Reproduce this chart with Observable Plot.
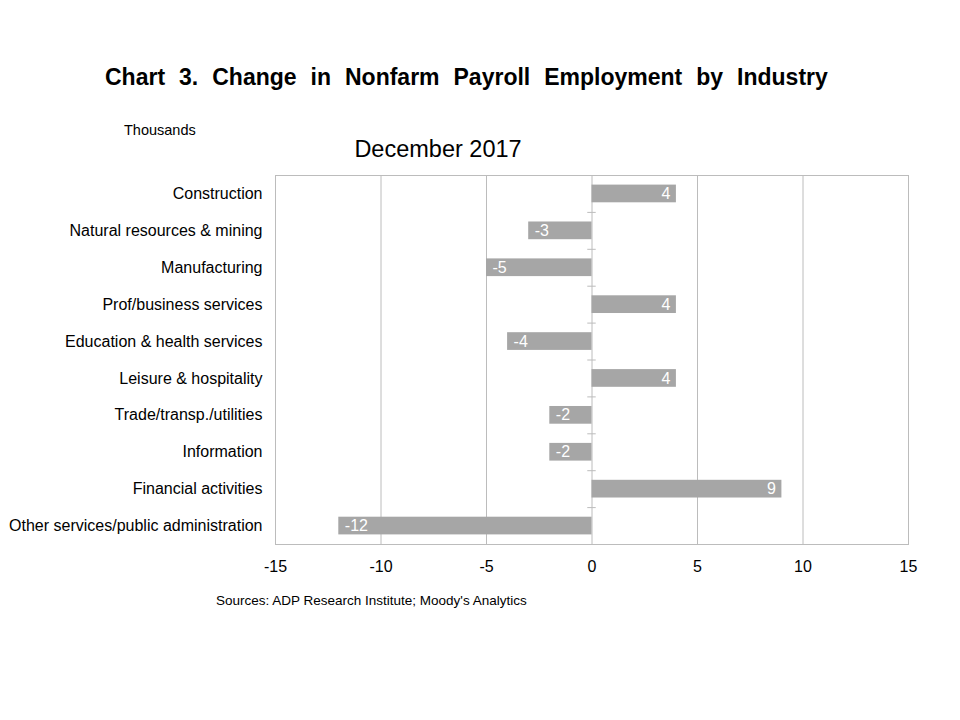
<!DOCTYPE html>
<html>
<head>
<meta charset="utf-8">
<script src="https://cdn.jsdelivr.net/npm/d3@7"></script>
<script src="https://cdn.jsdelivr.net/npm/@observablehq/plot@0.6"></script>
<style>
  html, body { margin: 0; padding: 0; background: #fff; }
  #chart { width: 960px; height: 720px; }
</style>
</head>
<body>
<div id="chart"></div>
<script>
const categories = [
  "Construction",
  "Natural resources & mining",
  "Manufacturing",
  "Prof/business services",
  "Education & health services",
  "Leisure & hospitality",
  "Trade/transp./utilities",
  "Information",
  "Financial activities",
  "Other services/public administration"
];
const values = [4, -3, -5, 4, -4, 4, -2, -2, 9, -12];
const xTicks = [-15, -10, -5, 0, 5, 10, 15];
const gridTicks = [-10, -5, 0, 5, 10];

const title = "Chart 3. Change in Nonfarm Payroll Employment by Industry";
const subtitle = "December 2017";
const unitLabel = "Thousands";
const source = "Sources: ADP Research Institute; Moody's Analytics";

const data = categories.map((c, i) => ({category: c, value: values[i]}));
const font = "'Liberation Sans', Arial, sans-serif";
const barColor = "#a6a6a6";
const gridColor = "#bcbcbc";

const plot = Plot.plot({
  width: 960,
  height: 720,
  marginTop: 175,
  marginBottom: 176,
  marginLeft: 275,
  marginRight: 52,
  style: {fontFamily: font, fontSize: "16px", color: "#000", background: "#fff"},
  x: {domain: [-15, 15], ticks: xTicks, tickSize: 0, tickPadding: 16, label: null, tickFormat: d => String(d)},
  y: {domain: categories, paddingInner: 0.52, paddingOuter: 0.26, round: false, tickSize: 0, tickPadding: 13, label: null},
  marks: [
    Plot.ruleX(gridTicks, {stroke: gridColor, strokeWidth: 1}),
    Plot.ruleY(categories.slice(0, -1), {y: d => d, x1: -0.2, x2: 0.2, dy: 18.45, stroke: gridColor}),
    Plot.frame({stroke: gridColor}),
    Plot.barX(data, {x: "value", y: "category", fill: barColor}),
    Plot.text(data.filter(d => d.value > 0), {x: "value", y: "category", text: d => String(d.value), textAnchor: "end", dx: -6, fill: "#fff", fontSize: 16}),
    Plot.text(data.filter(d => d.value < 0), {x: "value", y: "category", text: d => String(d.value), textAnchor: "start", dx: 6, fill: "#fff", fontSize: 16})
  ]
});

document.getElementById("chart").appendChild(plot);

const svg = d3.select(plot);
svg.append("text")
  .attr("x", 105).attr("y", 85)
  .attr("text-anchor", "start")
  .attr("font-family", font).attr("font-size", 23).attr("font-weight", "bold")
  .style("word-spacing", "7.6px")
  .attr("fill", "#000")
  .text(title);
svg.append("text")
  .attr("x", 124).attr("y", 135)
  .attr("text-anchor", "start")
  .attr("font-family", font).attr("font-size", 14.5)
  .attr("fill", "#000")
  .text(unitLabel);
svg.append("text")
  .attr("x", 438).attr("y", 157)
  .attr("text-anchor", "middle")
  .attr("font-family", font).attr("font-size", 23.5)
  .attr("fill", "#000")
  .text(subtitle);
svg.append("text")
  .attr("x", 216).attr("y", 605)
  .attr("text-anchor", "start")
  .attr("font-family", font).attr("font-size", 13.5)
  .attr("fill", "#000")
  .text(source);
</script>
</body>
</html>
